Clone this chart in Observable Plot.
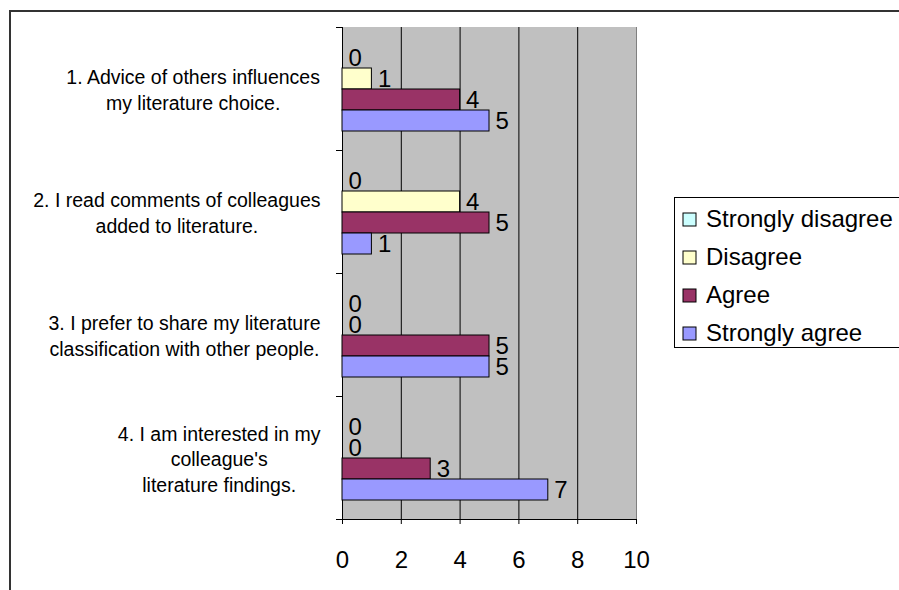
<!DOCTYPE html>
<html><head><meta charset="utf-8">
<script src="https://cdn.jsdelivr.net/npm/d3@7"></script>
<script src="https://cdn.jsdelivr.net/npm/@observablehq/plot@0.6"></script>
<style>
html,body{margin:0;padding:0;background:#fff;width:899px;height:590px;overflow:hidden;font-family:"Liberation Sans",Arial,sans-serif;color:#000}
#wrap{position:relative;width:899px;height:590px}
#chart{position:absolute;left:0;top:0}
#border{position:absolute;left:9px;top:10px;width:1000px;height:1000px;border-left:2px solid #333;border-top:2px solid #333;pointer-events:none}
#legend{position:absolute;left:674px;top:197px;width:300px;height:149px;border:1px solid #000;background:#fff}
.lg-swatches{font-family:"Liberation Sans",Arial,sans-serif;font-size:24px;margin:0;padding:2px 0 0 8px;color:#000}
.lg-swatch{height:38px;padding-bottom:0 !important}
.lg-swatch > svg{margin-right:10px}
.lg-swatch rect{stroke:#000;stroke-width:1px}
</style></head>
<body>
<div id="wrap"><div id="chart"></div><div id="legend"></div><div id="border"></div></div>
<script>
const categories = [
  "1. Advice of others influences\nmy literature choice.",
  "2. I read comments of colleagues\nadded to literature.",
  "3. I prefer to share my literature\nclassification with other people.",
  "4. I am interested in my\ncolleague's\nliterature findings."
];
const series = ["Strongly disagree", "Disagree", "Agree", "Strongly agree"];
const stronglyDisagree = [0, 0, 0, 0];
const disagree = [1, 4, 0, 0];
const agree = [4, 5, 5, 3];
const stronglyAgree = [5, 1, 5, 7];
const xTicks = [0, 2, 4, 6, 8, 10];
const seriesColors = ["#CCFFFF", "#FFFFCC", "#993366", "#9999FF"];

const seriesValues = [stronglyDisagree, disagree, agree, stronglyAgree];
const table = categories.flatMap((c, i) => series.map((s, j) => ({cat: c, series: s, value: seriesValues[j][i]})));

const W = 899, H = 590, mL = 342, mR = 263, mT = 27, mB = 71;
const band = (H - mT - mB) / categories.length;
const labelFont = 19.5, family = '"Liberation Sans", Arial, sans-serif';
const ctx = document.createElement("canvas").getContext("2d");
ctx.font = `${labelFont}px "Liberation Sans"`;
const blockWidth = c => Math.max(...c.split("\n").map(l => ctx.measureText(l).width));
const labelGap = 22;
const last = categories[categories.length - 1];

const chart = Plot.plot({
  width: W, height: H, marginLeft: mL, marginRight: mR, marginTop: mT, marginBottom: mB,
  style: {fontFamily: family, background: "transparent", color: "#000", overflow: "visible"},
  x: {domain: [0, 10], label: null},
  y: {domain: series, paddingInner: 0, paddingOuter: 0.8, axis: null, label: null},
  fy: {domain: categories, padding: 0, axis: null, label: null},
  color: {domain: series, range: seriesColors},
  marks: [
    Plot.frame({fill: "#C0C0C0", stroke: "#C0C0C0"}),
    Plot.ruleX(xTicks.filter(t => t > 0 && t < 10), {stroke: "#000"}),
    Plot.ruleX([10], {stroke: "#808080"}),
    Plot.ruleX([0], {stroke: "#000"}),
    Plot.barX(table.filter(d => d.value > 0), {x: "value", y: "series", fy: "cat", fill: "series", stroke: "#000", strokeWidth: 1}),
    Plot.text(table, {x: "value", y: "series", fy: "cat", text: d => String(d.value), textAnchor: "start", dx: 6, fontSize: 24, fill: "#000"}),
    Plot.axisX({anchor: "bottom", ticks: xTicks, tickSize: 5, tickPadding: 26, fontSize: 24, label: null}),
    Plot.axisFy({anchor: "left", ticks: categories, tickSize: 6, tickFormat: () => "", dy: -band / 2, label: null}),
    Plot.axisFy({anchor: "left", ticks: [last], tickSize: 6, tickFormat: () => "", dy: band / 2, label: null}),
    Plot.gridFy({ticks: [last], dy: band / 2, stroke: "#000", strokeOpacity: 1}),
    ...categories.map(c => Plot.text([c], {
      fy: d => d, text: d => d, frameAnchor: "left", textAnchor: "middle",
      dx: -(labelGap + blockWidth(c) / 2), fontSize: labelFont, lineHeight: 1.31, fill: "#000"
    }))
  ]
});
document.getElementById("chart").appendChild(chart);

const legend = Plot.legend({
  color: {domain: series, range: seriesColors, type: "ordinal"},
  legend: "swatches", columns: 1, swatchSize: 13, className: "lg"
});
document.getElementById("legend").appendChild(legend);
</script>
</body></html>
